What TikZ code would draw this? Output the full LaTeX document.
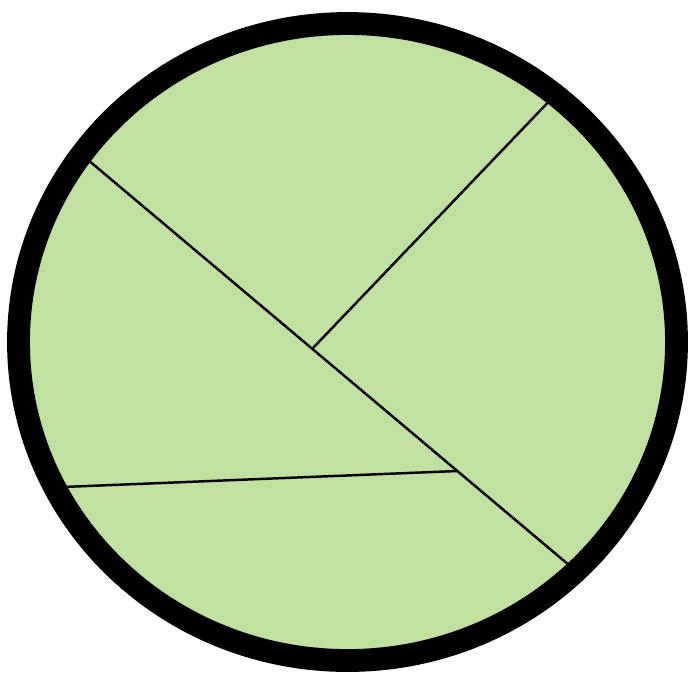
\documentclass[tikz,border=0pt]{standalone}
\usepackage{tikz}
\usepackage{xcolor}
\usetikzlibrary{calc}
\definecolor{leafgreen}{RGB}{193,225,160}

\begin{document}
\begin{tikzpicture}[x=0.02cm,y=-0.02cm,
  cut/.style={draw=black,line width=1.4pt},
  rim/.style={draw=black,line width=13pt}]
\useasboundingbox (0,0) rectangle (688,674);
% disc
\fill[leafgreen] (347.5,342) ellipse [x radius=329,y radius=318.5];
% cuts
\coordinate (a0) at (81,154); \coordinate (a1) at (582,576);
\coordinate (mid) at (313,348); \coordinate (b1) at (556,94);
\coordinate (low) at (457,471); \coordinate (c0) at (50,487.5);
\draw[cut](a0)--(a1); \draw[cut](mid)--(b1); \draw[cut](c0)--(low);
% rim
\draw[rim] (347.5,342) ellipse [x radius=329,y radius=318.5];
\end{tikzpicture}
\end{document}
